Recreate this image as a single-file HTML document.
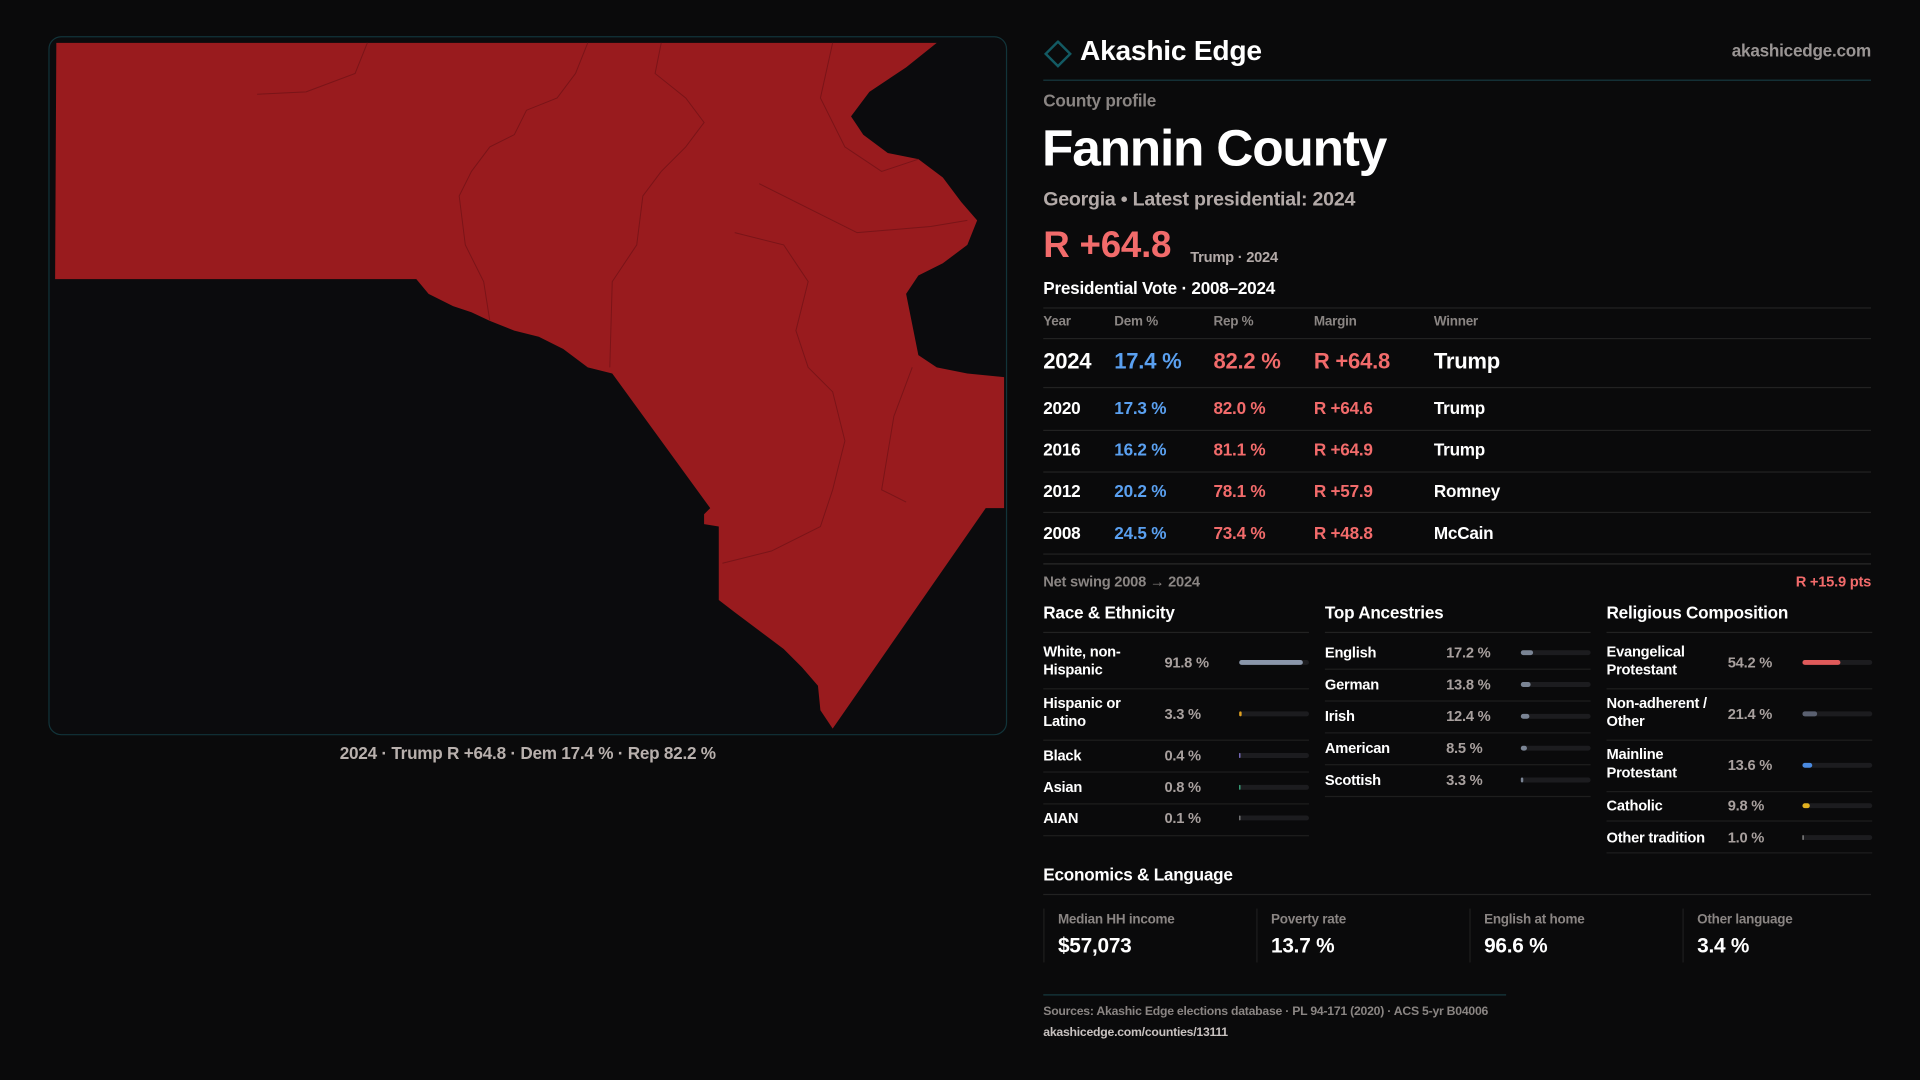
<!DOCTYPE html>
<html><head><meta charset="utf-8">
<style>
html,body{margin:0;padding:0;background:#0a0a0b;width:1920px;height:1080px;overflow:hidden}
#page{position:absolute;left:0;top:0;width:1568px;height:882px;transform:scale(1.22449);transform-origin:0 0;font-family:"Liberation Sans",sans-serif;color:#fff;letter-spacing:-0.2px}
.a{position:absolute;white-space:nowrap}
.line{position:absolute;height:1px;background:#222}
.g{color:#8a8583}
.bar{position:absolute;height:4px;border-radius:2px;background:#1c1c1f}
.fill{position:absolute;left:0;top:0;height:4px;border-radius:2px}
</style></head><body>
<div id="page">
<svg class="a" style="left:0;top:0" width="1568" height="882">
  <rect x="40" y="30" width="782" height="570" rx="10" fill="#0b0b0d" stroke="#12343a" stroke-width="1"/>
  <polygon fill="#991b1e" points="46,35 765,35 740,55 710,75 695,95 705,110 725,125 750,130 770,145 785,165 798,180 790,200 770,215 750,225 740,240 745,265 750,290 765,300 790,305 820,308 820,415 805,415 680,595 670,580 668,560 655,545 640,530 620,515 600,500 587,490 587,430 575,428 575,420 580,415 500,305 480,300 460,285 440,275 420,270 400,262 385,255 370,250 350,240 340,228 45,228"/>
  <g fill="none" stroke="#7a1418" stroke-width="0.8">
    <path d="M300,35 L290,60 L250,75 L210,77"/>
    <path d="M480,35 L470,60 L455,80 L430,90 L420,110 L400,120 L385,140 L375,160 L380,200 L395,230 L400,262"/>
    <path d="M540,35 L535,60 L560,80 L575,100 L560,120 L540,140 L525,160 L520,200 L500,230 L498,300"/>
    <path d="M680,35 L670,80 L690,120 L720,140 L750,130"/>
    <path d="M620,150 L660,170 L700,190 L760,185 L790,180"/>
    <path d="M600,190 L640,200 L660,230 L650,270 L660,300 L680,320 L690,360 L680,400 L670,430 L630,450 L590,460"/>
    <path d="M745,300 L730,340 L720,400 L740,410"/>
  </g>
</svg>
<div class="a" style="left:0;width:862px;top:607px;text-align:center;font-size:14px;color:#b8b0ad;font-weight:bold">2024 · Trump R +64.8 · Dem 17.4 % · Rep 82.2 %</div>

<svg class="a" style="left:852px;top:33px" width="24" height="24"><polygon points="12,1 22,11 12,21 2,11" fill="none" stroke="#135a63" stroke-width="2"/></svg>
<div class="a" style="left:882px;top:28px;font-size:23px;font-weight:bold">Akashic Edge</div>
<div class="a g" style="right:40px;top:33px;font-size:14px;font-weight:bold;color:#9a9594">akashicedge.com</div>
<div class="line" style="left:852px;width:676px;top:65px;background:#163a40"></div>
<div class="a g" style="left:852px;top:74px;font-size:14px;font-weight:bold">County profile</div>
<div class="a" style="left:851px;top:97px;font-size:42px;font-weight:bold;letter-spacing:-1px">Fannin County</div>
<div class="a" style="left:852px;top:155px;font-size:16px;font-weight:bold;color:#b3aaa8">Georgia • Latest presidential: 2024</div>
<div class="a" style="left:852px;top:184px;font-size:30px;font-weight:bold;color:#f26b6b">R +64.8</div>
<div class="a" style="left:972px;top:203px;font-size:12px;font-weight:bold;color:#b3aaa8">Trump · 2024</div>
<div class="a" style="left:852px;top:227px;font-size:14px;font-weight:bold">Presidential Vote · 2008–2024</div>
<div class="a g" style="left:852px;top:468px;font-size:12px;font-weight:bold">Net swing 2008 → 2024</div>
<div class="a" style="right:40px;top:468px;font-size:12px;font-weight:bold;color:#f26b6b">R +15.9 pts</div>
<div class="a" style="left:852px;top:706px;font-size:14px;font-weight:bold">Economics &amp; Language</div>
<div class="line" style="left:852px;width:676px;top:730px"></div>
<div class="line" style="left:852px;width:378px;top:812px;background:#163a40"></div>
<div class="a g" style="left:852px;top:821px;font-size:10px;font-weight:bold">Sources: Akashic Edge elections database · PL 94-171 (2020) · ACS 5-yr B04006</div>
<div class="a" style="left:852px;top:838px;font-size:10px;font-weight:bold;color:#c8c2c0">akashicedge.com/counties/13111</div>
</div>
<script>
const years=["2024","2020","2016","2012","2008"];
const demPct=[17.4,17.3,16.2,20.2,24.5];
const repPct=[82.2,82.0,81.1,78.1,73.4];
const margins=["R +64.8","R +64.6","R +64.9","R +57.9","R +48.8"];
const winners=["Trump","Trump","Trump","Romney","McCain"];
const raceLabels=["White, non-\nHispanic","Hispanic or\nLatino","Black","Asian","AIAN"];
const raceValues=[91.8,3.3,0.4,0.8,0.1];
const raceColors=["#8a96aa","#e0a020","#8a7ad8","#3fb88a","#888"];
const ancLabels=["English","German","Irish","American","Scottish"];
const ancValues=[17.2,13.8,12.4,8.5,3.3];
const relLabels=["Evangelical\nProtestant","Non-adherent /\nOther","Mainline\nProtestant","Catholic","Other tradition"];
const relValues=[54.2,21.4,13.6,9.8,1.0];
const relColors=["#e05a5a","#5a6070","#4a8ae0","#e0b020","#999"];
const econLabels=["Median HH income","Poverty rate","English at home","Other language"];
const econValues=["$57,073","13.7 %","96.6 %","3.4 %"];
const P=document.getElementById('page');
function div(cls,style,txt){const d=document.createElement('div');d.className=cls;d.style.cssText=style;if(txt!==undefined)d.textContent=txt;P.appendChild(d);return d;}
let l;
l=div('line','left:852px;width:676px;top:251px');


const cols=[852,910,991,1073,1171];
["Year","Dem %","Rep %","Margin","Winner"].forEach((h,i)=>{const d=div('a g','left:'+cols[i]+'px;top:257px;font-size:11px;font-weight:bold',h);

});
l=div('line','left:852px;width:676px;top:276px');


const rowC=[295,333,367,401,435],rowL=[316,351,385,418,452];
years.forEach((y,i)=>{const fs=i==0?18:14,t=rowC[i]-fs*0.58;
const vals=[y,demPct[i].toFixed(1)+" %",repPct[i].toFixed(1)+" %",margins[i],winners[i]];
const colr=["#fff","#5aa0f0","#f26b6b","#f26b6b","#fff"];
vals.forEach((v,j)=>{const d=div('a','left:'+cols[j]+'px;top:'+t+'px;font-size:'+fs+'px;font-weight:bold;color:'+colr[j],v);

});
const ln=div('line','left:852px;width:676px;top:'+rowL[i]+'px');

});
l=div('line','left:852px;width:676px;top:460px;background:#2a2a2a');


function panel(x,title,labels,values,colors,centers,seps){
 const h=div('a','left:'+x+'px;top:492px;font-size:14px;font-weight:bold',title);
 
 
 const r=div('line','left:'+x+'px;width:217px;top:516px');
 
 
 labels.forEach((lb,i)=>{const two=lb.includes('\n');const c=centers[i];
  const d=div('a','left:'+x+'px;top:'+(c-(two?16:7))+'px;font-size:12px;font-weight:bold;line-height:15px;white-space:pre',lb);
  
  
  const v=div('a','left:'+(x+99)+'px;top:'+(c-7)+'px;font-size:12px;font-weight:bold;color:#a8a09e',values[i].toFixed(1)+' %');
  
  
  const b=div('bar','left:'+(x+160)+'px;top:'+(c-2)+'px;width:57px');
  
  
  const f=document.createElement('div');f.className='fill';f.style.width=Math.max(1,values[i]/100*57)+'px';f.style.background=colors[i];b.appendChild(f);
  
  
  const s=div('line','left:'+x+'px;width:217px;top:'+seps[i]+'px;background:#1e1e1e');
  
  });
}
panel(852,"Race & Ethnicity",raceLabels,raceValues,raceColors,[541,583,617,643,668],[562,604,630,656,682]);
panel(1082,"Top Ancestries",ancLabels,ancValues,ancValues.map(()=> "#7a8494"),[533,559,585,611,637],[546,572,598,624,650]);
panel(1312,"Religious Composition",relLabels,relValues,relColors,[541,583,625,658,684],[562,604,646,670,696]);
const ex=[852,1026,1200,1374];
econLabels.forEach((lb,i)=>{
 const b=div('a','left:'+ex[i]+'px;top:742px;width:1px;height:44px;background:#1e1e1e');
 
 
 const d=div('a g','left:'+(ex[i]+12)+'px;top:745px;font-size:11px;font-weight:bold',lb);
 
 
 const v=div('a','left:'+(ex[i]+12)+'px;top:763px;font-size:17px;font-weight:bold',econValues[i]);
 
 });
</script>
</body></html>
